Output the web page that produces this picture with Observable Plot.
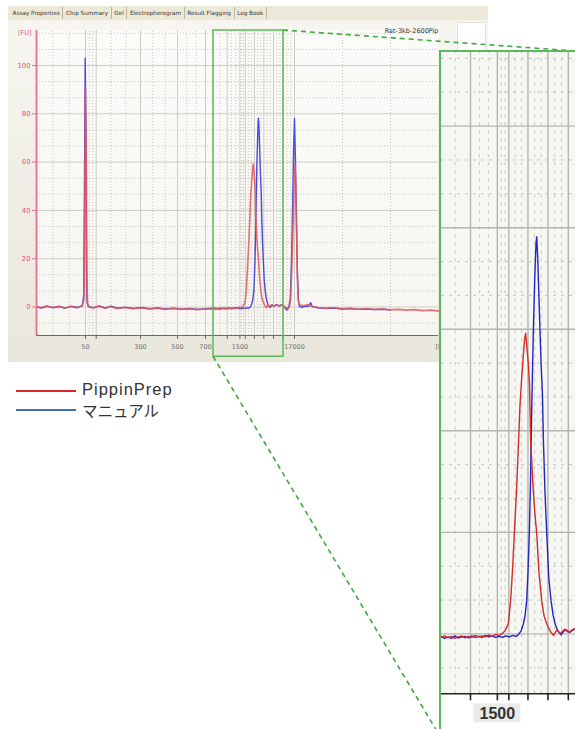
<!DOCTYPE html>
<html><head><meta charset="utf-8">
<script src="https://cdn.jsdelivr.net/npm/d3@7"></script>
<script src="https://cdn.jsdelivr.net/npm/@observablehq/plot@0.6"></script>
<style>
html,body{margin:0;padding:0;background:#fff;overflow:hidden}
#root{position:relative;width:575px;height:729px;overflow:hidden;background:#fff;font-family:"DejaVu Sans",sans-serif}
#topstrip{position:absolute;left:8px;top:6px;width:480px;height:15px;background:#ece9d8}
#tabs{position:absolute;left:10px;top:7px;height:12px;display:flex;font-size:5.7px;color:#333}
#tabs span{display:block;padding:0 2.6px;line-height:12px;border-right:1px solid #b9b6a6}
#main{position:absolute;left:8px;top:20px}
#legendbox{position:absolute;left:457px;top:22px;width:27px;height:30px;background:#fff;border:1px solid #e4e2d8}
#conn{position:absolute;left:0;top:0;pointer-events:none}
#inset{position:absolute;left:439px;top:50px;width:148px;height:686px;border:2px solid #5cb85c;background:#fff}
.legline{position:absolute;left:16px;width:60px;height:2px}
.legtext{position:absolute;left:82px;color:#333;white-space:nowrap}
#leg1{top:379.6px;font-family:"Liberation Sans",Arial,sans-serif;font-size:16.5px;line-height:18.5px;letter-spacing:1px}
#leg2{top:398.6px;font-family:"Noto Sans CJK JP",sans-serif;font-size:15.5px;line-height:22px}
</style>
</head><body>
<div id="root">
  <div id="topstrip"></div>
  <div id="tabs"></div>
  <div id="main"></div>
  <div id="legendbox"></div>
  <div class="legline" style="top:390px;background:#e0242c"></div>
  <div class="legtext" id="leg1"></div>
  <div class="legline" style="top:409px;background:#3d6fb8"></div>
  <div class="legtext" id="leg2"></div>
  <svg id="conn" width="575" height="729"></svg>
  <div id="inset"></div>
</div>
<script>
// ---------- data ----------
const tabNames = ["Assay Properties","Chip Summary","Gel","Electropherogram","Result Flagging","Log Book"];
const sampleName = "Rat-3kb-2600Pip";
const seriesNames = ["PippinPrep", "マニュアル"];

// ladder sizes (bp) and their migration times (s)
const ladderSizes = [50, 100, 300, 500, 700, 1000, 1500, 2000, 3000, 4000, 5000, 7000, 17000];
const ladderTimes = [27.19, 29.85, 40.87, 50.07, 57.04, 62.44, 65.6, 66.95, 69.2, 71.55, 73.95, 76.4, 79.18];
const mainTickLabels = ["50","","300","500","700","","1500","","","","","","17000"];
const insetTickLabels = ["","","","","","","1500","","","","","",""];
const fuTicks = [0, 20, 40, 60, 80, 100];

// PippinPrep (red) trace: time (s), fluorescence (FU)
const pippinTime = [15.0,16.0,17.5,19.0,20.5,22.0,23.5,25.0,26.3,26.8,27.0,27.2,27.4,27.55,27.7,28.0,29.0,30.5,32.0,33.5,35.0,37.0,39.0,41.0,43.0,45.0,47.0,49.0,51.0,53.0,55.0,57.0,
 59.0,59.4,59.8,60.2,60.6,61.0,61.4,61.8,62.2,62.6,63.0,63.4,63.8,64.2,64.6,65.0,65.4,65.8,66.2,66.5,
 66.89,67.16,67.4,67.6,67.85,68.05,68.26,68.45,68.66,68.8,68.93,69.05,69.25,69.38,69.44,69.52,69.8,70.0,70.23,70.5,70.82,71.1,71.41,71.8,
 72.2,72.6,73.0,73.5,74.0,74.6,75.3,76.0,76.8,77.5,77.9,78.2,78.5,78.8,79.05,79.3,79.5,79.7,79.9,80.1,80.4,80.8,81.5,82.5,83.5,
 85.0,87.0,89.0,91.0,93.0,95.0,97.0,99.0,101.0,103.0,105.0,107.0,109.0,111.0,113.0,115.0];
const pippinFU = [0.2,-0.3,0.4,-0.2,0.3,-0.4,0.2,-0.3,0.4,3,40,91,60,10,1.5,0.0,-0.4,0.3,-0.5,0.2,-0.6,-0.2,-0.7,-0.3,-0.8,-0.5,-0.9,-0.6,-1.0,-0.7,-1.1,-0.8,
 -0.7,-0.4,-0.8,-0.5,-0.9,-0.6,-0.4,-0.8,-0.5,-0.7,-0.3,-0.6,-0.4,-0.6,-0.2,-0.5,-0.1,-0.3,0.1,0.6,
 2,6.5,13,19.8,28,36,45,50,55,58,59.2,57,53,49,45,38,29,24,19.8,12,6.5,3.5,2,0.6,
 -0.3,0.8,0.1,0.9,0.3,1.0,0.4,0.8,0.1,-0.8,0.0,3,15,32,50,59,50,30,12,3,0.6,0.8,0.5,1.0,0.2,
 -0.2,-0.5,-0.3,-0.7,-0.5,-0.9,-0.7,-1.0,-0.8,-1.2,-1.0,-1.3,-1.1,-1.5,-1.3,-1.6];

// manual (blue) trace
const manualTime = [15.0,16.2,17.6,19.2,20.6,22.2,23.6,25.1,26.4,26.75,26.95,27.12,27.3,27.45,27.6,27.9,29.1,30.6,32.1,33.6,35.1,37.1,39.1,41.1,43.1,45.1,47.1,49.1,51.1,53.1,55.1,57.1,
 59.0,59.4,59.8,60.2,60.6,61.0,61.4,61.8,62.2,62.6,63.0,63.4,63.8,64.2,64.6,65.0,65.4,65.8,66.2,66.6,67.0,67.4,67.8,68.1,68.4,
 68.66,68.85,69.05,69.2,69.36,69.5,69.63,69.75,69.84,70.0,70.15,70.23,70.35,70.5,70.61,70.75,70.9,71.02,71.2,71.41,71.65,71.92,72.15,72.39,
 72.7,73.1,73.6,74.1,74.7,75.4,76.0,76.7,77.3,77.8,78.15,78.45,78.7,78.95,79.18,79.4,79.65,79.9,80.15,80.4,81.0,81.8,82.7,83.2,83.6,
 85.0,87.0,89.0,91.0,93.0,95.0,97.0,99.0,101.0,103.0];
const manualFU = [0.1,-0.4,0.3,-0.3,0.2,-0.5,0.3,-0.2,0.5,5,55,103,70,15,2,0.2,-0.3,0.4,-0.4,0.3,-0.5,-0.1,-0.6,-0.2,-0.7,-0.4,-0.8,-0.5,-0.9,-0.6,-1.0,-0.7,
 -0.5,-0.9,-0.6,-0.9,-0.4,-0.8,-0.6,-0.5,-0.8,-0.4,-0.7,-0.5,-0.7,-0.3,-0.6,-0.4,-0.7,-0.5,-0.7,-0.4,-0.6,-0.3,-0.5,-0.1,0.6,
 2,3.5,6.5,12,19.8,30,43,53,60,70,77,78.2,74,66,60,53,47.5,38,28,19.8,11,6.5,3.8,2,
 0.6,-0.2,0.9,0.3,1.0,0.5,0.9,-0.2,-1.2,0.3,4,20,40,65,78,62,38,14,3,0.3,-0.2,0.4,0.3,1.8,0.2,
 -0.3,-0.6,-0.4,-0.8,-0.6,-1.0,-0.8,-1.1,-0.9,-1.2];

// ---------- build ----------
const pippin = pippinTime.map((t, i) => ({t, v: pippinFU[i]}));
const manual = manualTime.map((t, i) => ({t, v: manualFU[i]}));
const ladder = ladderTimes.map((t, i) => ({t, size: ladderSizes[i], main: mainTickLabels[i], inset: insetTickLabels[i]}));

const T0 = 15, T1 = 115, Y0 = -11.8, Y1 = 114.5;
const zoomX = [59.03, 76.44], zoomY = [-20.6, 114.5];
const mainW = 480, mainH = 342, mL = 28, mR = 50, mT = 10, mB = 27;
const pxY = (mainH - mT - mB) / (Y1 - Y0);
const pxX = (mainW - mL - mR) / (T1 - T0);

// minor grid at thirds between major lines
const vMajors = [T0, ...ladderTimes, T1];
const minorX = [];
for (let i = 0; i < vMajors.length - 1; i++) {
  const a = vMajors[i], b = vMajors[i + 1];
  minorX.push(a + (b - a) / 3, a + 2 * (b - a) / 3);
}
const hMajors = [-20, ...fuTicks, 120];
const minorY = [];
for (let i = 0; i < hMajors.length - 1; i++) {
  const a = hMajors[i], b = hMajors[i + 1];
  minorY.push(a + (b - a) / 3, a + 2 * (b - a) / 3);
}
const minorYIn = minorY.filter(v => v > Y0 && v < Y1);

document.getElementById("tabs").innerHTML = tabNames.map(n => `<span>${n}</span>`).join("");
document.getElementById("leg1").textContent = seriesNames[0];
document.getElementById("leg2").textContent = seriesNames[1];

const red = "#e4585a", blue = "#4a4ade", pink = "#e2547a";
const mainPlot = Plot.plot({
  width: mainW, height: mainH,
  marginLeft: mL, marginRight: mR, marginTop: mT, marginBottom: mB,
  x: {domain: [T0, T1], axis: null},
  y: {domain: [Y0, Y1], axis: null},
  style: {background: "linear-gradient(#f6f5f0, #e9e7db)", fontFamily: "DejaVu Sans, sans-serif", overflow: "visible"},
  marks: [
    Plot.rect([0], {x1: () => T0, x2: () => T1, y1: () => Y0, y2: () => Y1, fill: "#ffffff", fillOpacity: 0.6}),
    Plot.ruleY(minorYIn, {x1: () => T0, x2: () => T1, stroke: "#b9b8b0", strokeDasharray: "1,2", strokeWidth: 0.8}),
    Plot.ruleX(minorX, {y1: () => Y0, y2: () => Y1, stroke: "#b9b8b0", strokeDasharray: "1,2", strokeWidth: 0.8}),
    Plot.ruleY(fuTicks, {x1: () => T0, x2: () => T1, stroke: "#cdccc4", strokeWidth: 1}),
    Plot.ruleX(ladderTimes, {y1: () => Y0, y2: () => Y1, stroke: "#cdccc4", strokeWidth: 1}),
    Plot.line(manual, {x: "t", y: "v", stroke: blue, strokeWidth: 1.4}),
    Plot.line(pippin, {x: "t", y: "v", stroke: red, strokeWidth: 1.6, strokeOpacity: 0.85}),
    Plot.ruleY([Y0], {x1: () => T0, x2: () => T1, stroke: "#6a6a6a", strokeWidth: 1}),
    Plot.ruleX(ladder, {x: "t", y1: () => Y0, y2: () => Y0 - 4 / pxY, stroke: "#6a6a6a"}),
    Plot.text(ladder, {x: "t", y: () => Y0, text: "main", dy: 11, fontSize: 6.5, fill: "#707070"}),
    Plot.text(["[bp]"], {x: () => T1, y: () => Y0, text: d => d, dy: 11, dx: -3, textAnchor: "start", fontSize: 6.5, fill: "#707070"}),
    Plot.ruleX([T0], {y1: () => Y0, y2: () => Y1, stroke: "#e8708c", strokeWidth: 1.8}),
    Plot.ruleY(fuTicks, {x1: () => T0 - 4 / pxX, x2: () => T0, y: d => d, stroke: "#e8708c"}),
    Plot.text(fuTicks, {x: () => T0, y: d => d, text: d => String(d), dx: -6, textAnchor: "end", fontSize: 6.8, fill: pink}),
    Plot.text(["[FU]"], {x: () => T0, y: () => Y1, text: d => d, dx: -5, dy: 2, textAnchor: "end", fontSize: 6.5, fill: pink}),
    Plot.text([sampleName], {x: () => T1, y: () => Y1, text: d => d, textAnchor: "end", dx: 0, fontSize: 6.5, fill: "#333"}),
    Plot.rect([0], {x1: () => zoomX[0], x2: () => zoomX[1], y1: () => zoomY[0], y2: () => zoomY[1], fill: "none", stroke: "#5cb85c", strokeWidth: 1.5})
  ]
});
document.getElementById("main").appendChild(mainPlot);

// ---------- inset ----------
const inW = 148, inH = 686;
const inPxY = inH / (zoomY[1] - zoomY[0]);
const inPxX = inW / (zoomX[1] - zoomX[0]);
const labelled = ladder.filter(d => d.inset);
const insetPlot = Plot.plot({
  width: inW, height: inH, margin: 0,
  x: {domain: zoomX, axis: null},
  y: {domain: zoomY, axis: null},
  style: {background: "#ffffff", fontFamily: "Liberation Sans, Arial, sans-serif"},
  marks: [
    Plot.rect([0], {x1: () => zoomX[0], x2: () => zoomX[1], y1: () => Y0, y2: () => Y1, fill: "#f6f6f3"}),
    Plot.ruleY(minorYIn, {x1: () => zoomX[0], x2: () => zoomX[1], stroke: "#c4c4c0", strokeDasharray: "3,5", strokeWidth: 1}),
    Plot.ruleX(minorX, {y1: () => Y0, y2: () => Y1, stroke: "#c4c4c0", strokeDasharray: "3,5", strokeWidth: 1}),
    Plot.ruleY(fuTicks, {x1: () => zoomX[0], x2: () => zoomX[1], stroke: "#b4b4b0", strokeWidth: 1.4}),
    Plot.ruleX(ladderTimes, {y1: () => Y0, y2: () => Y1, stroke: "#b4b4b0", strokeWidth: 1.4}),
    Plot.line(manual, {x: "t", y: "v", stroke: "#2424c4", strokeWidth: 1.4, clip: true}),
    Plot.line(pippin, {x: "t", y: "v", stroke: "#d42a2a", strokeWidth: 1.4, clip: true}),
    Plot.ruleY([Y0], {x1: () => zoomX[0], x2: () => zoomX[1], stroke: "#222", strokeWidth: 1.6}),
    Plot.ruleX(ladder, {x: "t", y1: () => Y0, y2: () => Y0 - 7 / inPxY, stroke: "#222", strokeWidth: 1.6}),
    Plot.rect(labelled, {x1: d => d.t - 23.5 / inPxX, x2: d => d.t + 23.5 / inPxX, y1: () => Y0 - 10 / inPxY, y2: () => Y0 - 29 / inPxY, fill: "#ebebe9"}),
    Plot.text(labelled, {x: "t", y: () => Y0, text: "inset", dy: 20, fontSize: 16, fill: "#333", fontWeight: "bold"})
  ]
});
document.getElementById("inset").appendChild(insetPlot);

// ---------- connectors ----------
const sx = mainPlot.scale("x"), sy = mainPlot.scale("y");
const fx = d3.scaleLinear(sx.domain, sx.range), fy = d3.scaleLinear(sy.domain, sy.range);
const mainLeft = 8, mainTop = 20, inLeft = 441, inTop = 52;
const conn = d3.select("#conn");
const segs = [
  [[mainLeft + fx(zoomX[1]), mainTop + fy(zoomY[1])], [inLeft + inW, inTop]],
  [[mainLeft + fx(zoomX[0]), mainTop + fy(zoomY[0])], [inLeft, inTop + inH]]
];
segs.forEach(([a, b]) => conn.append("line")
  .attr("x1", a[0]).attr("y1", a[1]).attr("x2", b[0]).attr("y2", b[1])
  .attr("stroke", "#3daa3d").attr("stroke-width", 1.6).attr("stroke-dasharray", "5,4"));
</script>
</body></html>
